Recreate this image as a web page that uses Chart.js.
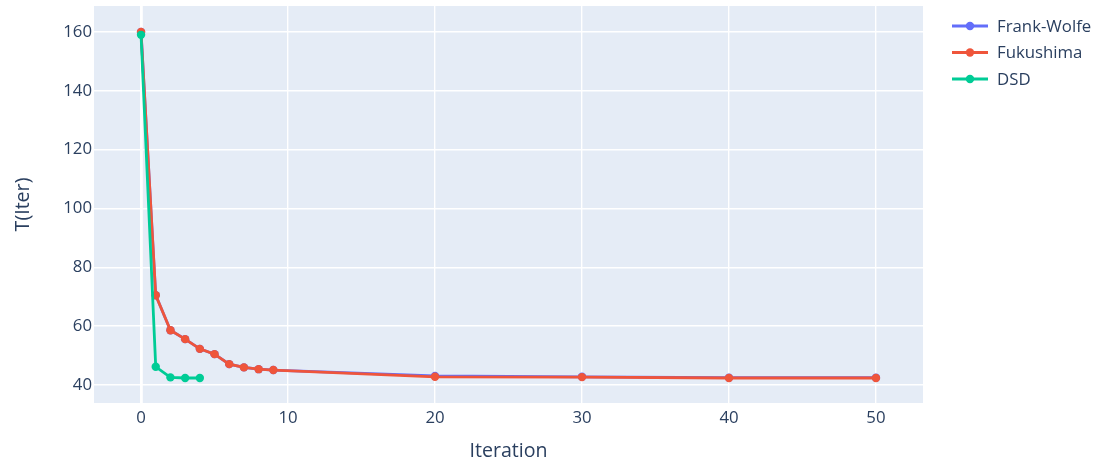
<!DOCTYPE html>
<html>
<head>
<meta charset="utf-8">
<script src="https://cdn.jsdelivr.net/npm/chart.js@4"></script>
<style>
  html, body { margin: 0; padding: 0; background: #fff; }
  #wrap { width: 1099px; height: 463px; }
</style>
</head>
<body>
<div id="wrap"><canvas id="chart" width="1099" height="463"></canvas></div>
<script>
// data
const iterations = [0, 1, 2, 3, 4, 5, 6, 7, 8, 9, 20, 30, 40, 50];
const frankWolfe = [160, 70.5, 58.6, 55.6, 52.3, 50.5, 47.1, 46.0, 45.4, 45.1, 43.1, 42.8, 42.5, 42.5];
const fukushima = [160, 70.5, 58.6, 55.6, 52.3, 50.5, 47.1, 46.0, 45.4, 45.1, 42.8, 42.7, 42.4, 42.4];
const dsdIterations = [0, 1, 2, 3, 4];
const dsd = [159, 46.2, 42.6, 42.4, 42.4];

const xTicks = [0, 10, 20, 30, 40, 50];
const yTicks = [40, 60, 80, 100, 120, 140, 160];

const seriesNames = ["Frank-Wolfe", "Fukushima", "DSD"];
const seriesColors = ["#636efa", "#EF553B", "#00cc96"];

const textColor = "#2a3f5f";
const fontFamily = '"Open Sans", verdana, arial, sans-serif';

function toPoints(xs, ys) {
  return xs.map((x, i) => ({ x: x, y: ys[i] }));
}

//plot background like plotly
const plotBg = {
  id: 'plotBg',
  beforeDraw(chart) {
    const a = chart.chartArea;
    const ctx = chart.ctx;
    ctx.save();
    ctx.fillStyle = '#E5ECF6';
    ctx.fillRect(a.left, a.top, a.right - a.left, a.bottom - a.top);
    ctx.restore();
  }
};

//legend with a line and a dot, drawn right of the plot
const sideLegend = {
  id: 'sideLegend',
  afterDraw(chart) {
    const ctx = chart.ctx;
    const x0 = chart.chartArea.right + 29;
    const y0 = 26;
    const rowH = 26.5;
    ctx.save();
    ctx.font = '16.8px ' + fontFamily;
    ctx.textBaseline = 'middle';
    seriesNames.forEach((name, i) => {
      const y = y0 + i * rowH;
      ctx.strokeStyle = seriesColors[i];
      ctx.lineWidth = 2.8;
      ctx.beginPath();
      ctx.moveTo(x0, y);
      ctx.lineTo(x0 + 36, y);
      ctx.stroke();
      ctx.fillStyle = seriesColors[i];
      ctx.beginPath();
      ctx.arc(x0 + 18, y, 4.2, 0, Math.PI * 2);
      ctx.fill();
      ctx.fillStyle = textColor;
      ctx.fillText(name, x0 + 45, y + 1);
    });
    ctx.restore();
  }
};

function lineSet(i, points, order) {
  return {
    label: seriesNames[i],
    data: points,
    borderColor: seriesColors[i],
    backgroundColor: seriesColors[i],
    borderWidth: 2.8,
    pointRadius: 4.2,
    pointBorderWidth: 0,
    pointHoverRadius: 4.2,
    tension: 0,
    order: order
  };
}

const canvas = document.getElementById("chart");
let chart = new Chart(canvas, {
  type: 'line',
  data: {
    datasets: [
      lineSet(0, toPoints(iterations, frankWolfe), 2),
      lineSet(1, toPoints(iterations, fukushima), 1),
      lineSet(2, toPoints(dsdIterations, dsd), 0)
    ]
  },
  options: {
    responsive: false,
    devicePixelRatio: 1,
    animation: false,
    layout: { padding: { left: 0, right: 176, top: 6, bottom: 0 } },
    plugins: {
      legend: { display: false },
      tooltip: { enabled: false }
    },
    scales: {
      x: {
        type: 'linear',
        min: -3.2,
        max: 53.2,
        afterBuildTicks: (scale) => { scale.ticks = xTicks.map(v => ({ value: v })); },
        afterFit: (scale) => {
          scale.height = 60;
          scale.paddingLeft = 0;
          scale.paddingRight = 0;
        },
        border: { display: false },
        grid: {
          color: '#ffffff',
          lineWidth: (c) => (c.tick && c.tick.value === 0 ? 2.8 : 1.4),
          drawTicks: false
        },
        ticks: {
          color: textColor,
          font: { family: fontFamily, size: 16.8 },
          padding: 5,
          maxRotation: 0
        },
        title: {
          display: true,
          text: 'Iteration',
          color: textColor,
          font: { family: fontFamily, size: 19.6 },
          padding: { top: 0, bottom: 0 }
        }
      },
      y: {
        type: 'linear',
        min: 33.9,
        max: 168.8,
        afterBuildTicks: (scale) => { scale.ticks = yTicks.map(v => ({ value: v })); },
        afterFit: (scale) => {
          scale.width = 94;
          scale.paddingTop = 0;
          scale.paddingBottom = 0;
        },
        border: { display: false },
        grid: {
          color: '#ffffff',
          lineWidth: 1.4,
          drawTicks: false
        },
        ticks: {
          color: textColor,
          font: { family: fontFamily, size: 16.8 },
          padding: 2
        },
        title: {
          display: true,
          text: 'T(Iter)',
          color: textColor,
          font: { family: fontFamily, size: 19.6 },
          padding: { top: 12, bottom: 0 }
        }
      }
    }
  },
  plugins: [plotBg, sideLegend]
});
</script>
</body>
</html>
